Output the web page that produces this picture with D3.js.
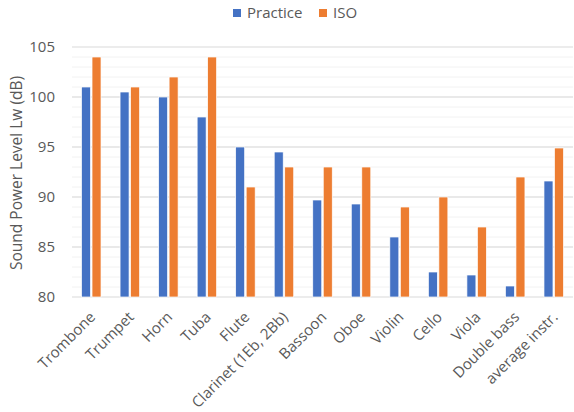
<!DOCTYPE html>
<meta charset="utf-8">
<script src="https://d3js.org/d3.v7.min.js"></script>
<style>
body { margin: 0; background: white; }
text { font-family: "Open Sans", "Noto Sans", sans-serif; fill: #595959; }
</style>
<div id="chart"></div>
<script>
var instruments = ["Trombone", "Trumpet", "Horn", "Tuba", "Flute", "Clarinet (1Eb, 2Bb)",
  "Bassoon", "Oboe", "Violin", "Cello", "Viola", "Double bass", "average instr."];
var practice = [101, 100.5, 100, 98, 95, 94.5, 89.7, 89.3, 86, 82.5, 82.2, 81.1, 91.6];
var iso = [104, 101, 102, 104, 91, 93, 93, 93, 89, 90, 87, 92, 94.9];
var seriesNames = ["Practice", "ISO"];
var colors = ["#4472C4", "#ED7D31"];
var yTicks = [80, 85, 90, 95, 100, 105];

var width = 574, height = 412;
var margin = {top: 47, right: 1, bottom: 115, left: 72};

var svg = d3.select("#chart").append("svg")
  .attr("width", width).attr("height", height);

var x = d3.scaleBand()
  .domain(instruments)
  .range([margin.left, width - margin.right]);

var y = d3.scaleLinear()
  .domain([80, 105])
  .range([height - margin.bottom, margin.top]);

// minor gridlines
svg.append("g").selectAll("line")
  .data(d3.range(81, 105))
  .enter().append("line")
    .attr("x1", margin.left).attr("x2", width - margin.right)
    .attr("y1", function(d) { return y(d); }).attr("y2", function(d) { return y(d); })
    .attr("stroke", "#f2f2f2").attr("stroke-width", 1);

// major gridlines
svg.append("g").selectAll("line")
  .data(yTicks)
  .enter().append("line")
    .attr("x1", margin.left).attr("x2", width - margin.right)
    .attr("y1", function(d) { return y(d); }).attr("y2", function(d) { return y(d); })
    .attr("stroke", "#d9d9d9").attr("stroke-width", 1);

// y axis labels
var yAxis = svg.append("g")
  .attr("transform", "translate(" + (margin.left - 17) + ",0)")
  .call(d3.axisLeft(y).tickValues(yTicks).tickSize(0).tickPadding(0));
yAxis.select(".domain").remove();
yAxis.selectAll("text").style("font-size", "15px").attr("fill", "#595959")
  .style("font-family", null);

svg.append("text")
  .attr("transform", "translate(22," + ((y(80) + y(105)) / 2 + 1) + ") rotate(-90)")
  .attr("text-anchor", "middle")
  .style("font-size", "15.5px")
  .text("Sound Power Level Lw (dB)");

// bars
var bw = 9, gap = 1.5;
var groups = svg.append("g").selectAll("g")
  .data(instruments)
  .enter().append("g")
    .attr("transform", function(d) { return "translate(" + (x(d) + x.bandwidth() / 2) + ",0)"; });

groups.append("rect")
  .attr("x", -bw - gap / 2)
  .attr("width", bw)
  .attr("y", function(d, i) { return y(practice[i]); })
  .attr("height", function(d, i) { return y(80) - y(practice[i]); })
  .attr("fill", colors[0]).attr("stroke", "white").attr("stroke-width", 0.7);

groups.append("rect")
  .attr("x", gap / 2)
  .attr("width", bw)
  .attr("y", function(d, i) { return y(iso[i]); })
  .attr("height", function(d, i) { return y(80) - y(iso[i]); })
  .attr("fill", colors[1]).attr("stroke", "white").attr("stroke-width", 0.7);

// x axis labels
var xAxis = svg.append("g")
  .attr("transform", "translate(0," + y(80) + ")")
  .call(d3.axisBottom(x).tickSize(0).tickPadding(0));
xAxis.select(".domain").remove();
xAxis.selectAll("text")
  .style("font-size", "15px").style("font-family", null).attr("fill", "#595959")
  .attr("text-anchor", "end")
  .attr("y", 0).attr("dy", 0)
  .attr("transform", "translate(5,21) rotate(-45)");

// legend
var legend = svg.append("g");
var lx = [233, 319];
seriesNames.forEach(function(s, i) {
  legend.append("rect").attr("x", lx[i]).attr("y", 9).attr("width", 8).attr("height", 8)
    .attr("fill", colors[i]);
  legend.append("text").attr("x", lx[i] + 14).attr("y", 18)
    .style("font-size", "15px").text(s);
});
</script>
